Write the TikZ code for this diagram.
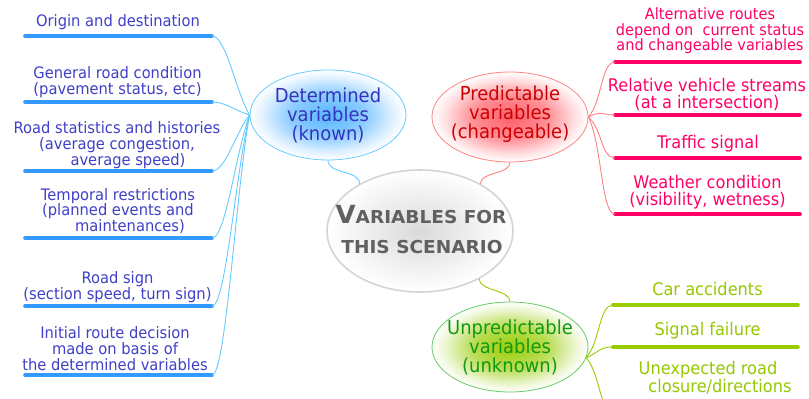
\documentclass[tikz,border=0pt]{standalone}
\usepackage{fontspec}
\setmainfont{DejaVu Sans}[FakeStretch=0.93]
\newfontfamily\titlefont{DejaVu Sans}[FakeStretch=1.04]
\usetikzlibrary{shapes.geometric,calc}

% palette
\definecolor{bluetxt}{RGB}{64,64,200}
\definecolor{bluehubtxt}{RGB}{51,51,187}
\definecolor{blueline}{RGB}{51,153,255}
\definecolor{blueconn}{RGB}{102,204,255}
\definecolor{bluefill}{RGB}{90,182,255}
\definecolor{redtxt}{RGB}{255,0,102}
\definecolor{redhubtxt}{RGB}{204,0,0}
\definecolor{redline}{RGB}{255,0,102}
\definecolor{redconn}{RGB}{255,130,130}
\definecolor{redfill}{RGB}{255,95,105}
\definecolor{greentxt}{RGB}{150,200,0}
\definecolor{greenhubtxt}{RGB}{17,153,17}
\definecolor{greenline}{RGB}{153,204,0}
\definecolor{greenconn}{RGB}{153,204,0}
\definecolor{greenborder}{RGB}{102,204,102}
\definecolor{greenfill}{RGB}{155,206,10}
\definecolor{titlegray}{RGB}{96,96,96}
\definecolor{coreborder}{RGB}{212,212,212}
\definecolor{corefill}{RGB}{218,218,218}

\pgfdeclareradialshading{bluehub}{\pgfpoint{0bp}{0bp}}{color(0bp)=(bluefill); color(12bp)=(bluefill!70!white); color(21bp)=(bluefill!18!white); color(25bp)=(white); color(50bp)=(white)}
\pgfdeclareradialshading{redhub}{\pgfpoint{0bp}{0bp}}{color(0bp)=(redfill); color(12bp)=(redfill!70!white); color(21bp)=(redfill!18!white); color(25bp)=(white); color(50bp)=(white)}
\pgfdeclareradialshading{greenhub}{\pgfpoint{0bp}{0bp}}{color(0bp)=(greenfill); color(12bp)=(greenfill!70!white); color(21bp)=(greenfill!18!white); color(25bp)=(white); color(50bp)=(white)}
\pgfdeclareradialshading{corehub}{\pgfpoint{0bp}{0bp}}{color(0bp)=(corefill); color(25bp)=(white); color(50bp)=(white)}

\tikzset{
  leaf/.style={align=center, inner sep=0pt},
  bleaf/.style={leaf, text=bluetxt, font=\fontsize{15.8}{15.8}\selectfont},
  rleaf/.style={leaf, text=redtxt, font=\fontsize{17.4}{17.3}\selectfont},
  gleaf/.style={leaf, text=greentxt, font=\fontsize{17.4}{15.2}\selectfont},
  under/.style={line width=3.6pt, line cap=round},
  bunder/.style={under, draw=blueline},
  runder/.style={under, draw=redline},
  gunder/.style={under, draw=greenline},
  conn/.style={line width=0.9pt},
  bconn/.style={conn, draw=blueconn},
  rconn/.style={conn, draw=redconn},
  gconn/.style={conn, draw=greenconn},
  hub/.style={ellipse, minimum width=156pt, minimum height=90pt, inner sep=0pt, line width=0.8pt},
  hubtext/.style={align=center, inner sep=0pt, font=\fontsize{19.3}{19}\selectfont},
  titletext/.style={anchor=base, inner sep=0pt, text=titlegray, font=\titlefont\bfseries\fontsize{17.8}{17.8}\selectfont},
}

\begin{document}
\begin{tikzpicture}[x=1pt,y=-1pt]
\useasboundingbox (0,0) rectangle (809,399);
\fill[white] (0,0) rectangle (809,399);
\clip (0,0) rectangle (809,399);

% central topic
\node[ellipse, minimum width=186pt, minimum height=122pt, inner sep=0pt,
      draw=coreborder, line width=1.6pt, shading=corehub] (core) at (420,231) {};
\node[titletext] (title1) at (421,223.3) {{\fontsize{25}{25}\selectfont V}ARIABLES FOR};
\node[titletext] (title2) at (422,253.3) {THIS SCENARIO};

% branch hubs
\node[hub, draw=blueconn, shading=bluehub] (bl) at (328,115) {};
\node[hubtext, text=bluehubtxt] (bltext) at (328,115.8) {Determined\\variables\\(known)};
\node[hub, draw=redconn, shading=redhub] (rd) at (510,117) {};
\node[hubtext, text=redhubtxt] (rdtext) at (510,114.6) {Predictable\\variables\\(changeable)};
\node[hub, draw=greenborder, shading=greenhub] (gr) at (510,347) {};
\node[hubtext, text=greenhubtxt] (grtext) at (510,347) {Unpredictable\\variables\\(unknown)};

% hub to core links
\draw[bconn] (bl.south) .. controls +(0,14) and +(0,-14) .. (core.142);
\draw[rconn] (rd.south) .. controls +(0,12) and +(0,-12) .. (core.38);
\draw[gconn] (core.-39) .. controls +(0,12) and +(0,-12) .. (gr.north);

% determined variables
\node[bleaf] (b1) at (118,22.6) {Origin and destination};
\node[bleaf] (b2) at (117.5,82.2) {General road condition\\(pavement status, etc)};
\node[bleaf] (b3) at (117,145) {Road statistics and histories\\(average congestion,\\\hspace*{22pt}average speed)};
\node[bleaf] (b4) at (118,211) {Temporal restrictions\\(planned events and\\\hspace*{24pt}maintenances)};
\node[bleaf] (b5) at (117.5,287) {Road sign\\(section speed, turn sign)};
\node[bleaf] (b6) at (115,348.7) {Initial route decision\\made on basis of\\the determined variables};

\foreach \i/\y in {1/36,2/102,3/171,4/238,5/306,6/375}{
  \coordinate (b\i l) at (25,\y);
  \coordinate (b\i r) at (212,\y);
  \draw[bunder] (b\i l) -- (b\i r);
}
\foreach \i/\k in {1/-24,2/-4,3/17,4/37,5/57,6/78}{
  \draw[bconn] (b\i r) .. controls +(14,0) and +(-14,\k) .. (bl.west);
}

% predictable variables
\node[rleaf, font=\fontsize{15.6}{15.4}\selectfont] (r1) at (710,30.9) {Alternative routes\\depend on\ \ current status\\and changeable variables};
\node[rleaf] (r2) at (707,94.2) {Relative vehicle streams\\(at a intersection)};
\node[rleaf] (r3) at (708,143.8) {Traffic signal};
\node[rleaf] (r4) at (707.5,192.5) {Weather condition\\(visibility, wetness)};

\foreach \i/\y in {1/62,2/115,3/158,4/214}{
  \coordinate (r\i l) at (615,\y);
  \coordinate (r\i r) at (800,\y);
  \draw[runder] (r\i l) -- (r\i r);
}
\foreach \i/\k in {1/-16,2/-7,3/12,4/29}{
  \draw[rconn] (rd.east) .. controls +(14,\k) and +(-14,0) .. (r\i l);
}

% unpredictable variables
\node[gleaf] (g1) at (707.5,288.8) {Car accidents};
\node[gleaf] (g2) at (707.5,330.5) {Signal failure};
\node[gleaf] (g3) at (708,378) {Unexpected road\\\hspace*{24pt}closure/directions};

\coordinate (gc) at (gr.-8);
\foreach \i/\y in {1/305,2/347,3/410}{
  \coordinate (g\i l) at (613,\y);
  \coordinate (g\i r) at (798,\y);
  \draw[gunder] (g\i l) -- (g\i r);
}
\foreach \i/\k in {1/-16,2/-6,3/16}{
  \draw[gconn] (gc) .. controls +(14,\k) and +(-14,0) .. (g\i l);
}
\end{tikzpicture}
\end{document}
